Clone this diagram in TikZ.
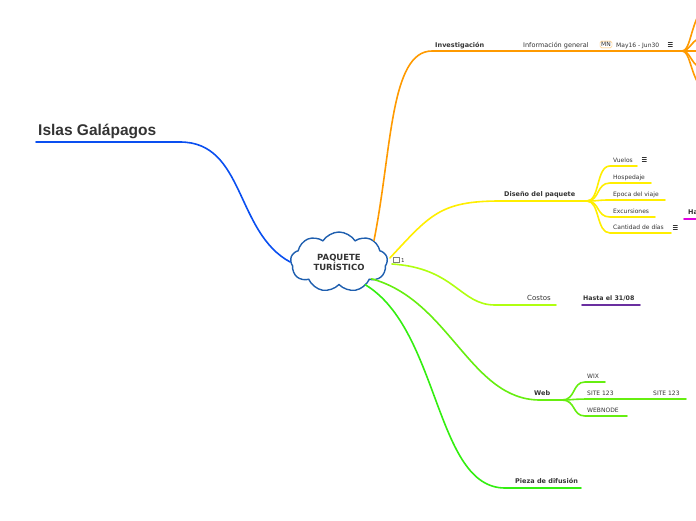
\documentclass[tikz,border=0pt]{standalone}
\usepackage{fontspec}
\setmainfont{DejaVu Sans}
\newfontfamily\titlefont{Liberation Sans}
\usetikzlibrary{shapes.symbols}
\definecolor{txt}{HTML}{333333}
\definecolor{cblue}{HTML}{0A4FF0}
\definecolor{corange}{HTML}{FF9A00}
\definecolor{cyellow}{HTML}{FFEE00}
\definecolor{clime}{HTML}{B0FF10}
\definecolor{cweb}{HTML}{66EE10}
\definecolor{cpieza}{HTML}{33EE10}
\definecolor{cpurple}{HTML}{6A2FA0}
\definecolor{cmag}{HTML}{E000E0}
\definecolor{cloudline}{HTML}{1F5FAF}
\tikzset{
  lbl/.style={anchor=base west,inner sep=0pt,text=txt,font=\fontsize{6.5}{7}\selectfont},
  lblb/.style={lbl,font=\fontsize{6.5}{8}\bfseries\selectfont},
  small/.style={lbl,font=\fontsize{6}{7}\selectfont},
  conn/.style={line width=1.6pt,line cap=round},
  menu/.style={inner sep=0pt,minimum width=5pt,minimum height=6pt,
    path picture={
      \draw[txt,line width=0.45pt]
        ([yshift=-0.8pt]path picture bounding box.north west) -- ([yshift=-0.8pt]path picture bounding box.north east)
        (path picture bounding box.west) -- (path picture bounding box.east)
        ([yshift=0.8pt]path picture bounding box.south west) -- ([yshift=0.8pt]path picture bounding box.south east);
    }},
}
\begin{document}
\begin{tikzpicture}[x=1pt,y=-1pt]
\useasboundingbox (0,0) rectangle (696,520);
% ---------- coordinates ----------
\coordinate (gal0) at (36,142);
\coordinate (gal1) at (180,142);
\coordinate (inv0) at (432,51);
\coordinate (ohub) at (682,51);
\coordinate (dis0) at (500,201);
\coordinate (dhub) at (587,201);
\coordinate (cos0) at (495,305);
\coordinate (cos1) at (556,305);
\coordinate (has0) at (582,305);
\coordinate (has1) at (640,305);
\coordinate (web0) at (540,400);
\coordinate (whub) at (562,400);
\coordinate (pie0) at (505,488);
\coordinate (pie1) at (581,488);
% ---------- central cloud ----------
\node[cloud,cloud puffs=9,cloud puff arc=115,aspect=1.7,draw=cloudline,fill=white,line width=1.4pt,
      minimum width=97pt,minimum height=60pt,inner sep=0pt,align=center,text=txt,
      font=\fontsize{8.5}{10}\bfseries\selectfont] (center) at (339,262) {PAQUETE\\TURÍSTICO};
% ---------- blue ----------
\draw[conn,cblue] (gal0) -- (gal1) .. controls (245,142) and (235,232) .. (center.west);
\node[anchor=base west,inner sep=0pt,text=txt,font=\titlefont\fontsize{15.5}{17}\bfseries\selectfont] (gal) at (38,135) {Islas Galápagos};
% ---------- orange ----------
\draw[conn,corange] (center.north east) .. controls (392,150) and (390,51) .. (inv0) -- (ohub);
\draw[conn,corange] (ohub) .. controls (690,51) and (690,30) .. (700,12);
\draw[conn,corange] (ohub) .. controls (690,51) and (690,42) .. (700,38);
\draw[conn,corange] (ohub) -- (700,51);
\draw[conn,corange] (ohub) .. controls (690,51) and (690,62) .. (700,68);
\draw[conn,corange] (ohub) .. controls (690,51) and (690,72) .. (700,86);
\node[lblb] (inv) at (435,47) {Investigación};
\node[lbl] (info) at (523,47) {Información general};
\node[draw=corange!70,rounded corners=1.5pt,inner sep=1.2pt,text=txt,font=\fontsize{6}{7}\selectfont] (mn) at (606,44.5) {MN};
\node[small] (may) at (616,47) {May16 - Jun30};
\node[menu] (m0) at (670,44) {};
% ---------- yellow ----------
\draw[conn,cyellow] (center.east) ++(2,-4) coordinate (y0) .. controls (430,215) and (440,201) .. (dis0) -- (dhub);
\node[lblb] (dis) at (504,196) {Diseño del paquete};
\foreach \n/\y/\e/\t in {vu/166/637/Vuelos,ho/183/651/Hospedaje,ep/200/665/Epoca del viaje,ex/217/655/Excursiones,ca/233/671/Cantidad de días}{
  \coordinate (\n0) at (610,\y);
  \coordinate (\n1) at (\e,\y);
  \draw[conn,cyellow] (dhub) .. controls (600,201) and (596,\y) .. (\n0) -- (\n1);
  \node[small] (\n) at (613,\y-4) {\t};
}
\node[menu] (m1) at (644,159.5) {};
\node[menu] (m2) at (675,227) {};
% ---------- comment icon ----------
\node[draw=gray,inner sep=0pt,minimum width=6pt,minimum height=5pt,line width=0.6pt] (cm) at (396,259.5) {};
\node[anchor=west,inner sep=0pt,text=txt,font=\fontsize{5.5}{6}\selectfont] (cmn) at (401,260) {1};
% ---------- Costos ----------
\draw[conn,clime] (center.east) ++(4,2) coordinate (c0) .. controls (455,268) and (460,305) .. (cos0) -- (cos1);
\node[lbl,font=\fontsize{7}{8}\selectfont] (cos) at (527,300) {Costos};
\draw[conn,cpurple] (has0) -- (has1);
\node[lblb,font=\fontsize{6.3}{7}\bfseries\selectfont] (has) at (583,300) {Hasta el 31/08};
% ---------- Web ----------
\draw[conn,cweb] (center.south east) ++(2,-2) coordinate (w0) .. controls (450,300) and (470,400) .. (web0) -- (whub);
\node[lblb] (web) at (534,395) {Web};
\coordinate (wx0) at (585,382); \coordinate (wx1) at (605,382);
\coordinate (st1) at (686,399);
\coordinate (wn0) at (585,416); \coordinate (wn1) at (627,416);
\draw[conn,cweb] (whub) .. controls (576,400) and (572,382) .. (wx0) -- (wx1);
\draw[conn,cweb] (whub) .. controls (572,400) and (572,399) .. (590,399) -- (st1);
\draw[conn,cweb] (whub) .. controls (576,400) and (572,416) .. (wn0) -- (wn1);
\node[small] (wix) at (587,378) {WIX};
\node[small] (s1) at (587,395) {SITE 123};
\node[small] (s2) at (653,395) {SITE 123};
\node[small] (wn) at (587,412) {WEBNODE};
% ---------- Pieza ----------
\draw[conn,cpieza] (center.south east) ++(-4,4) coordinate (p0) .. controls (440,330) and (435,488) .. (pie0) -- (pie1);
\node[lblb] (pie) at (515,483) {Pieza de difusión};
% ---------- partial magenta ----------
\draw[conn,cmag] (684,219) coordinate (h0) -- (698,219) coordinate (h1);
\node[lblb] (ha) at (688,214) {Ha};
\end{tikzpicture}
\end{document}
